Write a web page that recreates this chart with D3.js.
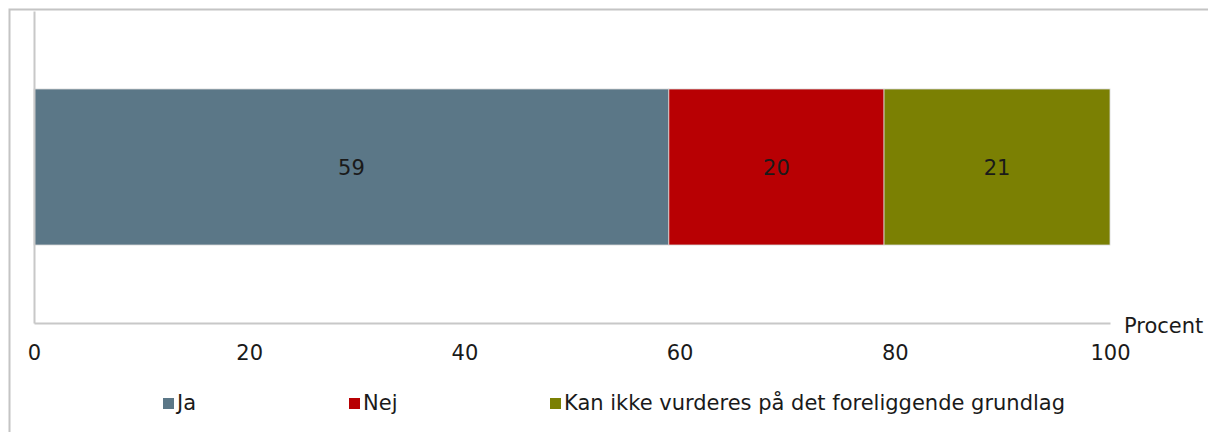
<!DOCTYPE html>
<html>
<head>
<meta charset="utf-8">
<script src="https://cdn.jsdelivr.net/npm/d3@7"></script>
<style>
body{margin:0;background:#fff;overflow:hidden}
svg{display:block}
svg text{font-family:"DejaVu Sans",Verdana,sans-serif;fill:#1a1a1a}
</style>
</head>
<body>
<script>
const w=1208
const h=432

// data
const categories=[""]
const seriesNames=["Ja","Nej","Kan ikke vurderes på det foreliggende grundlag"]
const seriesValues=[59,20,21]
const colors=["#5b7787","#b80003","#7b8003"]
const xTicks=[0,20,40,60,80,100]
const axisTitle="Procent"

const plotLeft=34, plotRight=1110, plotTop=11, plotBottom=323

const x=d3.scaleLinear()
    .domain([0,100])
    .range([plotLeft,plotRight])

const y=d3.scaleBand()
    .domain(categories)
    .range([plotTop,plotBottom])
    .paddingInner(0.5)
    .paddingOuter(0.25)

const svg=d3.create("svg")
    .attr("width",w)
    .attr("height",h)

//outer frame
svg.append("rect")
    .attr("x",9.5).attr("y",9.5)
    .attr("width",w).attr("height",h)
    .attr("fill","none")
    .attr("stroke","#c4c4c4")
    .attr("stroke-width",2)

//stack the segments
const stacked=[]
let acc=0
seriesValues.forEach((v,i)=>{
    stacked.push({name:seriesNames[i],value:v,x0:acc,x1:acc+v,color:colors[i]})
    acc+=v
})

svg.selectAll("rect.seg")
    .data(stacked)
    .enter()
    .append("rect")
    .attr("class","seg")
    .attr("x",d=>x(d.x0))
    .attr("y",y(categories[0]))
    .attr("width",d=>x(d.x1)-x(d.x0))
    .attr("height",y.bandwidth())
    .attr("fill",d=>d.color)
    .attr("stroke","#d8d8d8")
    .attr("stroke-width",0.8)

svg.selectAll("text.val")
    .data(stacked)
    .enter()
    .append("text")
    .attr("class","val")
    .attr("x",d=>x((d.x0+d.x1)/2))
    .attr("y",y(categories[0])+y.bandwidth()/2)
    .attr("dy","0.36em")
    .attr("text-anchor","middle")
    .attr("font-size",21)
    .text(d=>d.value)

//axes
const xAxis=svg.append("g")
    .attr("transform",`translate(0,${plotBottom})`)
    .call(d3.axisBottom(x).tickValues(xTicks).tickSize(0).tickPadding(22))
xAxis.select(".domain").attr("stroke","#c8c8c8").attr("stroke-width",2)
xAxis.selectAll("text")
    .attr("font-size",21)
    .attr("font-family","DejaVu Sans")
    .attr("fill","#1a1a1a")

const yAxis=svg.append("g")
    .attr("transform",`translate(${plotLeft},0)`)
    .call(d3.axisLeft(y).tickSize(0).tickFormat(""))
yAxis.select(".domain").attr("stroke","#c8c8c8").attr("stroke-width",2)

svg.append("text")
    .attr("x",1124)
    .attr("y",333)
    .attr("font-size",21)
    .text(axisTitle)

//legend
const legendX=[163,349,550]
const legend=svg.selectAll("g.leg")
    .data(seriesNames)
    .enter()
    .append("g")
    .attr("class","leg")
    .attr("transform",(d,i)=>`translate(${legendX[i]},398)`)

legend.append("rect")
    .attr("width",11)
    .attr("height",11)
    .attr("fill",(d,i)=>colors[i])

legend.append("text")
    .attr("x",14)
    .attr("y",12)
    .attr("font-size",21)
    .text(d=>d)

d3.select("body")
    .append(()=>svg.node())
</script>
</body>
</html>
